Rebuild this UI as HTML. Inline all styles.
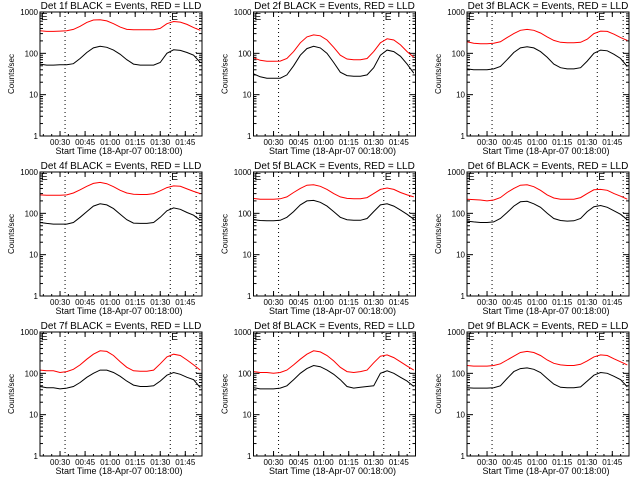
<!DOCTYPE html>
<html><head><meta charset="utf-8"><style>
html,body{margin:0;padding:0;background:#fff;}
svg{display:block;font-family:"Liberation Sans",sans-serif;}
</style></head><body>
<svg id="c" width="640" height="480" viewBox="0 0 640 480"></svg>
<script>
const detNames = ["1f","2f","3f","4f","5f","6f","7f","8f","9f"];
const sampleMinutes = [0,4,8,12,16,20,24,28,32,36,40,44,48,52,56,60,64,68,72,76,80,84,88,92,96];
const blackSeries = [
 [55,52,52,53,53,56,75,105,135,148,140,120,95,70,55,52,52,52,60,100,122,118,105,90,60],
 [32,27,25,25,25,30,50,90,130,148,135,100,60,35,29,28,28,30,45,90,120,110,85,55,33],
 [42,40,40,40,42,48,70,105,135,145,135,110,80,55,45,42,42,45,65,100,120,115,95,75,48],
 [60,57,55,55,55,60,80,110,150,170,160,130,95,70,58,57,57,60,80,115,135,125,105,90,68],
 [70,67,66,66,68,80,110,160,200,205,185,150,110,80,70,68,68,75,110,160,170,150,120,95,72],
 [65,62,60,60,62,75,105,150,190,195,170,140,100,75,67,65,66,75,110,145,155,140,115,95,70],
 [48,45,45,42,44,48,60,80,100,120,120,105,85,65,52,48,48,50,65,90,105,95,80,70,45],
 [45,42,42,42,44,50,70,100,130,155,145,120,95,70,48,44,46,48,50,100,115,100,80,65,48],
 [45,44,44,44,45,50,75,110,130,135,125,105,75,55,46,45,45,47,65,90,105,100,85,70,47]
];
const redSeries = [
 [350,340,340,345,350,380,450,560,640,650,610,520,430,380,370,370,370,370,400,520,590,570,500,420,360],
 [78,68,64,64,65,75,110,180,250,280,265,210,140,90,73,70,70,75,110,180,225,210,160,110,80],
 [190,175,170,170,175,190,240,300,360,380,360,310,250,205,185,180,180,185,220,300,345,340,290,240,205],
 [280,275,275,275,280,310,370,450,530,560,520,440,360,310,290,285,285,300,350,420,460,450,390,340,300],
 [230,220,220,220,225,250,320,400,480,490,450,380,300,250,230,225,225,240,300,380,410,380,320,280,250],
 [220,215,210,200,210,240,320,400,480,490,440,360,280,235,220,218,220,240,300,370,380,360,300,260,220],
 [120,115,115,105,110,125,160,220,290,350,340,270,190,140,115,112,112,120,170,250,290,270,210,160,120],
 [110,105,105,100,105,120,160,220,290,350,330,270,200,140,110,105,110,120,180,260,280,240,190,150,120],
 [155,150,150,150,155,170,210,260,320,340,320,270,210,175,160,155,155,165,200,250,280,270,225,190,160]
];
const xTickMinutes = [12,27,42,57,72,87];
const xTickLabels = ["00:30","00:45","01:00","01:15","01:30","01:45"];
const yTickValues = [1,10,100,1000];
const yTickLabels = ["1","10","100","1000"];
const dottedMinutes = [15,78,93.5];
const eMarkerMinutes = [0,78];

const NS="http://www.w3.org/2000/svg";
const svg=document.getElementById('c');
function mk(tag,attrs,parent){const e=document.createElementNS(NS,tag);for(const k in attrs)e.setAttribute(k,attrs[k]);(parent||svg).appendChild(e);return e;}

const boxW=162, boxH=124, totalMin=97;
for(let p=0;p<9;p++){
  const col=p%3,row=Math.floor(p/3);
  const L=40+col*213.5, T=12+row*160, R=L+boxW, B=T+boxH;
  const xs=m=>L+m/totalMin*boxW;
  const ys=v=>B-Math.log10(v)/3*boxH;
  const g=mk('g',{});
  
  
  const t=mk('text',{x:L+boxW/2,y:T-3,'text-anchor':'middle','font-size':'10'},g);
  t.textContent='Det '+detNames[p]+' BLACK = Events, RED = LLD';
  
  
  const yt=mk('text',{x:0,y:0,'text-anchor':'middle','font-size':'8',transform:`translate(${L-26},${T+boxH/2}) rotate(-90)`},g);
  yt.textContent='Counts/sec';
  
  
  const xt=mk('text',{x:L+boxW/2-2,y:B+18,'text-anchor':'middle','font-size':'9'},g);
  xt.textContent='Start Time (18-Apr-07 00:18:00)';
  
  
  yTickValues.forEach((v,i)=>{
    const y=ys(v);
    mk('line',{x1:L,x2:L+6,y1:y,y2:y,stroke:'#000'},g);
    mk('line',{x1:R,x2:R-6,y1:y,y2:y,stroke:'#000'},g);
    const tx=mk('text',{x:L-2,y:y+3,'text-anchor':'end','font-size':'8'},g);
    tx.textContent=yTickLabels[i];
    
    
    if(i<3){for(let k=2;k<10;k++){const yy=ys(v*k);
      mk('line',{x1:L,x2:L+3,y1:yy,y2:yy,stroke:'#000'},g);
      mk('line',{x1:R,x2:R-3,y1:yy,y2:yy,stroke:'#000'},g);}}
  });
  for(let m=2;m<totalMin;m+=5){const x=xs(m);
    mk('line',{x1:x,x2:x,y1:B,y2:B-2,stroke:'#000'},g);
    mk('line',{x1:x,x2:x,y1:T,y2:T+2,stroke:'#000'},g);}
  xTickMinutes.forEach((m,i)=>{const x=xs(m);
    mk('line',{x1:x,x2:x,y1:B,y2:B-5,stroke:'#000'},g);
    mk('line',{x1:x,x2:x,y1:T,y2:T+5,stroke:'#000'},g);
    const tx=mk('text',{x:x,y:B+9,'text-anchor':'middle','font-size':'8'},g);
    tx.textContent=xTickLabels[i];
    
    
  });
  dottedMinutes.forEach(m=>{const x=xs(m);
    const l=mk('line',{x1:x,x2:x,y1:T,y2:B,stroke:'#000','stroke-dasharray':'1,3'},g);
    
    });
  eMarkerMinutes.forEach(m=>{
    const e=mk('text',{x:xs(m)+1,y:T+8,'font-size':'10'},g);
    e.textContent='E';
    
    });
  const pts=s=>s.map((v,i)=>xs(sampleMinutes[i]).toFixed(1)+','+ys(v).toFixed(1)).join(' ');
  const rl=mk('polyline',{points:pts(redSeries[p]),fill:'none',stroke:'#f00','stroke-width':'1'},g);
  
  
  const bl=mk('polyline',{points:pts(blackSeries[p]),fill:'none',stroke:'#000','stroke-width':'1'},g);
  
  
  const box=mk('rect',{x:L,y:T,width:boxW,height:boxH,fill:'none',stroke:'#000'},g);
  
  
}
</script>
</body></html>
